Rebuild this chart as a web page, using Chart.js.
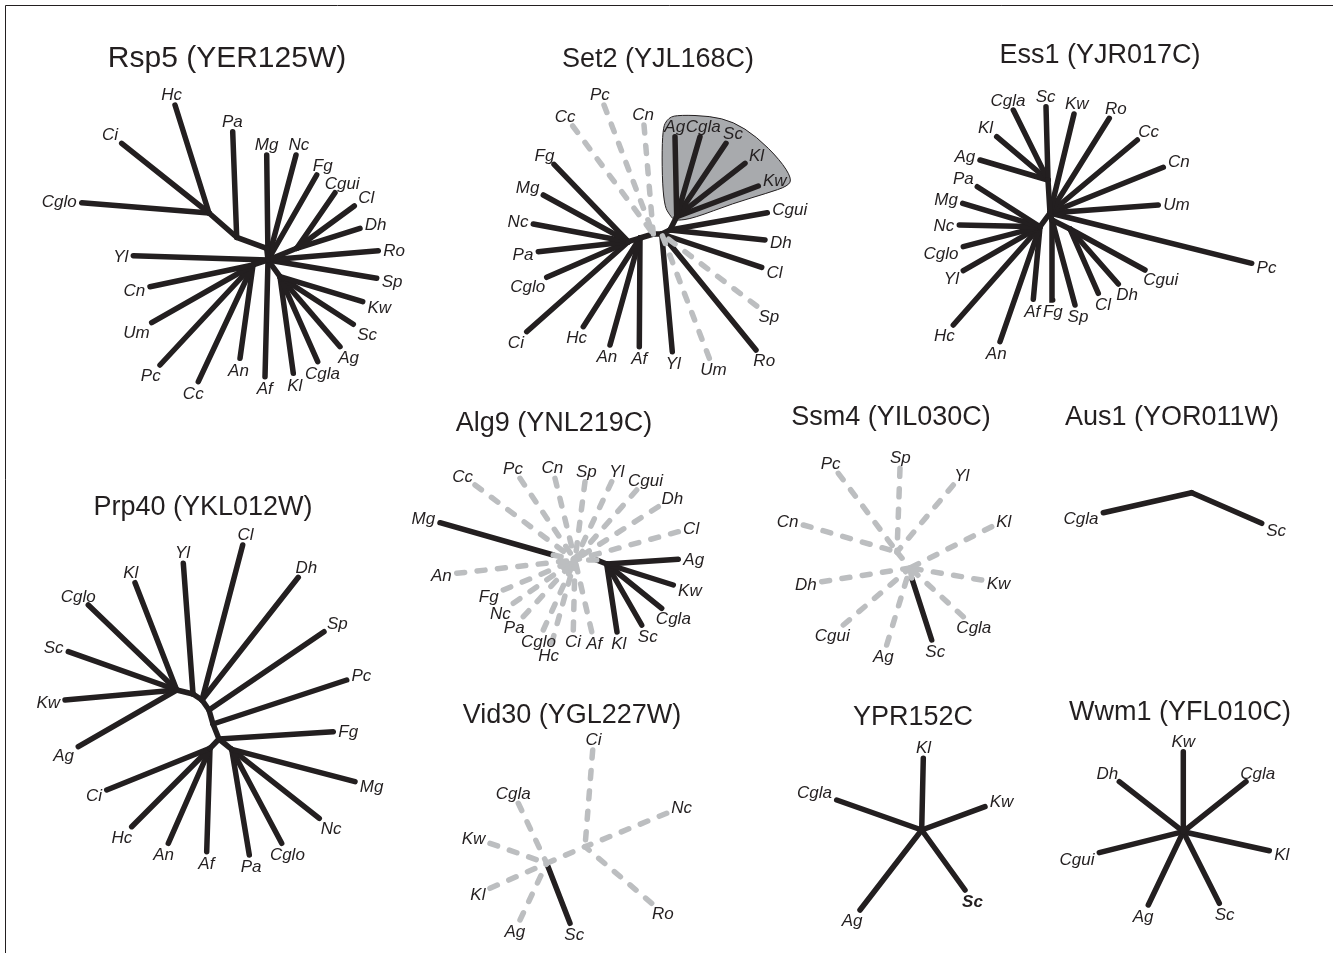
<!DOCTYPE html>
<html><head><meta charset="utf-8">
<script src="https://cdn.jsdelivr.net/npm/chart.js@4.4.1/dist/chart.umd.min.js"></script>
<style>html,body{margin:0;padding:0;background:#fff;overflow:hidden}</style>
</head><body>
<canvas id="c" width="1333" height="953" style="display:block;width:1333px;height:953px"></canvas>
<script>
// ---- DATA ----
// Tree titles
const treeTitles = ['Rsp5 (YER125W)','Set2 (YJL168C)','Ess1 (YJR017C)','Prp40 (YKL012W)','Alg9 (YNL219C)',
  'Ssm4 (YIL030C)','Aus1 (YOR011W)','Vid30 (YGL227W)','YPR152C','Wwm1 (YFL010C)'];
// Each tree: [node, parent, x, y, edge class]  ('k' = retained/solid, 'l' = lost/dashed)
// nodes starting with '_' are internal; '#n' suffix disambiguates duplicate leaf names
const rsp5 = [
  ['_c',null,268,260,'k'],['_n3','_c',266.7,248.3,'k'],['_n2','_n3',236.7,237.3,'k'],['_h1','_n2',209,213,'k'],
  ['_rt','_c',296.7,248.3,'k'],['_rb','_c',280,276.7,'k'],['_lb','_c',253,265,'k'],
  ['Hc','_h1',175,105,'k'],['Ci','_h1',121.7,143.3,'k'],['Cglo','_h1',81.7,202.7,'k'],['Pa','_n2',232.7,131.7,'k'],
  ['Mg','_c',266.7,155,'k'],['Nc','_c',296,155,'k'],['Fg','_c',316.7,175,'k'],
  ['Cgui','_rt',335,192.7,'k'],['Cl','_rt',354.3,206,'k'],['Dh','_rt',360,228.3,'k'],
  ['Ro','_c',378.3,250.7,'k'],['Sp','_c',376.7,278.3,'k'],
  ['Kw','_rb',362.7,301.7,'k'],['Sc','_rb',353.3,324.3,'k'],['Ag','_rb',340,346.7,'k'],['Cgla','_rb',317.7,361.7,'k'],['Kl','_rb',293.3,373.3,'k'],
  ['Yl','_c',133.3,255.7,'k'],['Cn','_lb',150,286.7,'k'],['Um','_lb',151.7,322.7,'k'],['Pc','_lb',160,365,'k'],
  ['Cc','_lb',198.3,381.7,'k'],['An','_lb',240,358.3,'k'],['Af','_c',265,376.7,'k']
];
const set2 = [
  ['_j3',null,653.3,234,'k'],['_j2','_j3',661.7,234,'k'],['_j1','_j2',670,230,'k'],['_cl','_j1',676.7,216.7,'k'],
  ['_j4','_j3',640,238,'k'],['_lh','_j4',628.3,241.7,'k'],
  ['Ag','_cl',675,136.7,'k'],['Cgla','_cl',700,136.7,'k'],['Sc','_cl',726,143.3,'k'],['Kl','_cl',745,163.3,'k'],['Kw','_cl',758.3,186,'k'],
  ['Cgui','_j1',767.3,212.7,'k'],['Dh','_j1',765,240,'k'],['Cl','_j2',761.7,267.3,'k'],['Ro','_j2',756,350,'k'],['Yl','_j2',672.3,351.7,'k'],
  ['Pc','_j3',604,105,'l'],['Cc','_j3',572.7,126,'l'],['Cn','_j3',644,125,'l'],['Sp','_j2',756.7,306,'l'],['Um','_j2',709.3,358.3,'l'],
  ['Fg','_lh',554,164.3,'k'],['Mg','_lh',543.3,195,'k'],['Nc','_lh',533.3,224,'k'],['Pa','_lh',538.3,251.7,'k'],
  ['Cglo','_lh',546.7,277.3,'k'],['Ci','_lh',526.7,331.7,'k'],
  ['Hc','_j4',583.3,326.7,'k'],['An','_j4',610,345,'k'],['Af','_j4',639.3,346.7,'k']
];
// outline of the highlighted Saccharomycetaceae clade in Set2
const set2CladeX = [671.7,662.7,661.7,668.3,680,710,733.3,756.7,780,791.7,788.3,766.7,733.3,693.3,676.7];
const set2CladeY = [218.3,203.3,130,117.3,115,116,121.7,136.7,160,178.3,186,193.3,203.3,218.3,220.7];
const ess1 = [
  ['_B',null,1050,213,'k'],['_up','_B',1048,180,'k'],['_low','_B',1040,226.7,'k'],['_m','_B',1052,220,'k'],['_r','_m',1070,229,'k'],
  ['Sc','_up',1046,106.7,'k'],['Cgla','_up',1013.3,110,'k'],['Kl','_up',996.7,136.7,'k'],['Ag','_up',980,160,'k'],
  ['Kw','_B',1074,114,'k'],['Ro','_B',1109.3,118.3,'k'],['Cc','_B',1137.3,140,'k'],['Cn','_B',1163.3,167.3,'k'],
  ['Um','_B',1158.3,205,'k'],['Pc','_B',1251.7,263.3,'k'],
  ['Pa','_low',977.3,186.7,'k'],['Mg','_low',962.7,203.3,'k'],['Nc','_low',959.3,225,'k'],['Cglo','_low',963.3,246.7,'k'],
  ['Yl','_low',963.3,270.7,'k'],['Hc','_low',953.3,325,'k'],['An','_low',1000,341.7,'k'],['Af','_low',1033.3,299.3,'k'],
  ['Fg','_m',1052.7,300,'k'],['Sp','_m',1075,305,'k'],
  ['Cl','_r',1098.3,293.3,'k'],['Dh','_r',1118.3,284,'k'],['Cgui','_r',1145,270,'k']
];
const prp40 = [
  ['_b5',null,219,739,'k'],['_b4','_b5',213,724,'k'],['_b3','_b4',209,710,'k'],['_b2','_b3',202,700,'k'],['_b1','_b2',193,694,'k'],
  ['_t','_b1',176.7,690,'k'],['_ll','_b5',210,748.3,'k'],['_lr','_b5',231.7,749.3,'k'],
  ['Cglo','_t',88.3,605,'k'],['Kl','_t',135,582.7,'k'],['Sc','_t',68.3,651.7,'k'],['Kw','_t',65,700,'k'],['Ag','_t',78.3,746.7,'k'],
  ['Yl','_b1',183.3,563.3,'k'],['Cl','_b2',242.7,545,'k'],['Dh','_b2',298.3,577.3,'k'],['Sp','_b3',324,631.7,'k'],
  ['Pc','_b4',346.7,680,'k'],['Fg','_b5',333.3,731.7,'k'],
  ['Mg','_lr',355,781.7,'k'],['Nc','_lr',319.3,818.3,'k'],['Cglo#2','_lr',281.7,843.3,'k'],['Pa','_lr',249.3,855,'k'],
  ['Ci','_ll',106.7,790,'k'],['Hc','_ll',131.7,826.7,'k'],['An','_ll',168.3,843.3,'k'],['Af','_ll',206.7,851.7,'k']
];
const alg9 = [
  ['_c',null,575,560,'l'],['_mg','_c',553.3,555,'l'],['_s2','_c',596.7,560,'l'],['_s','_s2',606.7,564,'k'],
  ['Mg','_mg',440,522.7,'k'],
  ['Ag','_s',678.3,559.3,'k'],['Kw','_s',673.3,585,'k'],['Cgla','_s',661.7,608.3,'k'],['Sc','_s',641.7,625,'k'],['Kl','_s',617,632,'k'],
  ['Cc','_c',475,485,'l'],['Pc','_c',520,478.3,'l'],['Cn','_c',555,478.3,'l'],['Sp','_c',585,481.7,'l'],['Yl','_c',611.7,481.7,'l'],
  ['Cgui','_c',636.7,490,'l'],['Dh','_c',658.3,506.7,'l'],['Cl','_c',678.3,531.7,'l'],['An','_c',456.7,573.3,'l'],
  ['Fg','_c',503.3,590,'l'],['Nc','_c',513.3,603.3,'l'],['Pa','_c',523.3,616.7,'l'],['Cglo','_c',543.3,630,'l'],
  ['Hc','_c',551.7,643.3,'l'],['Ci','_c',573.3,630,'l'],['Af','_c',591.7,631.7,'l']
];
const ssm4 = [
  ['_d',null,910,568,'l'],['_u','_d',897,552,'l'],['_sc','_d',911.7,578,'l'],
  ['Pc','_u',838.3,473.3,'l'],['Sp','_u',900,468.3,'l'],['Yl','_u',953.3,485,'l'],['Cn','_u',803.3,525,'l'],
  ['Dh','_d',821.7,581.7,'l'],['Cgui','_d',843.3,625,'l'],['Kl','_d',991.7,526.7,'l'],['Kw','_d',981.7,580,'l'],
  ['Cgla','_d',963.3,616.7,'l'],['Ag','_d',886.7,645,'l'],['Sc','_sc',931.7,640,'k']
];
const aus1 = [['_c',null,1191.7,492.7,'k'],['Cgla','_c',1103.3,512.7,'k'],['Sc','_c',1261.7,523.3,'k']];
const vid30 = [
  ['_r',null,585,846.7,'l'],['_l','_r',546.7,863.3,'l'],
  ['Ci','_r',592.7,750,'l'],['Nc','_r',666.7,813.3,'l'],['Ro','_r',651.7,903.3,'l'],
  ['Cgla','_l',518.3,803.3,'l'],['Kw','_l',490,843.3,'l'],['Kl','_l',490,888.3,'l'],['Ag','_l',520,920,'l'],['Sc','_l',570,923.3,'k']
];
const ypr152c = [
  ['_c',null,921.7,830,'k'],['Kl','_c',923.3,758.3,'k'],['Cgla','_c',836.7,800,'k'],['Kw','_c',985,806.7,'k'],
  ['Sc','_c',965,890,'k'],['Ag','_c',860,910,'k']
];
const wwm1 = [
  ['_c',null,1183.3,831.7,'k'],['Kw','_c',1183.3,751.7,'k'],['Cgla','_c',1246,781.7,'k'],['Dh','_c',1119.3,781.7,'k'],
  ['Cgui','_c',1099.3,852.7,'k'],['Kl','_c',1269.3,850.7,'k'],['Ag','_c',1148.3,905,'k'],['Sc','_c',1219.3,903.3,'k']
];
const trees = [rsp5,set2,ess1,prp40,alg9,ssm4,aus1,vid30,ypr152c,wwm1];

// ---- LAYOUT / STYLE ----
const titleLayout = [[227,67,30],[658,67,27],[1100,63,27],[203,515,27],[554,431,27],[891,425,27],[1172,425,27],[572,723,27],[913,725,27],[1180,720,27]];
const INK = '#231f20', GRAY = '#bcbec0', HULL = '#a8aaad';
const LABEL_FONT = 'italic 17px "Liberation Sans", Arial, sans-serif';
const boldLabel = {tree: 8, node: 'Sc'};

const datasets = [];
trees.forEach(t => {
  const map = {}; t.forEach(n => map[n[0]] = n);
  ['l','k'].forEach(cls => t.forEach(n => {
    if (!n[1] || n[4] !== cls) return;
    const p = map[n[1]];
    const solid = cls === 'k';
    datasets.push({
      // dashes start at the tip so they don't form rings at shared hubs
      data: [{x:n[2], y:n[3]}, {x:p[2], y:p[3]}],
      showLine: true, borderColor: solid ? INK : GRAY, backgroundColor: 'transparent',
      borderWidth: 5.5, borderDash: solid ? [] : [8, 12.5], borderCapStyle: 'round',
      pointRadius: 0, pointHoverRadius: 0, fill: false
    });
  }));
});

const deco = {
  id: 'deco',
  beforeDatasetsDraw(chart) {
    const {ctx, scales:{x, y}} = chart;
    ctx.save();
    // frame
    ctx.strokeStyle = INK; ctx.lineWidth = 1;
    ctx.beginPath(); ctx.moveTo(5.5, 960); ctx.lineTo(5.5, 5.5); ctx.lineTo(1340, 5.5); ctx.stroke();
    // clade hull (smooth closed curve through midpoints)
    const pts = set2CladeX.map((v, i) => [x.getPixelForValue(v), y.getPixelForValue(set2CladeY[i])]);
    const n = pts.length;
    const mid = i => { const a = pts[i % n], b = pts[(i + 1) % n]; return [(a[0] + b[0]) / 2, (a[1] + b[1]) / 2]; };
    ctx.beginPath();
    const m0 = mid(n - 1); ctx.moveTo(m0[0], m0[1]);
    for (let i = 0; i < n; i++) { const m = mid(i); ctx.quadraticCurveTo(pts[i][0], pts[i][1], m[0], m[1]); }
    ctx.closePath();
    ctx.fillStyle = HULL; ctx.fill();
    ctx.strokeStyle = INK; ctx.lineWidth = 1; ctx.stroke();
    ctx.restore();
  },
  afterDatasetsDraw(chart) {
    const {ctx, scales:{x, y}} = chart;
    ctx.save();
    ctx.fillStyle = INK;
    trees.forEach((t, ti) => {
      const map = {}; t.forEach(n => map[n[0]] = n);
      t.forEach(n => {
        if (n[0][0] === '_') return;
        const p = map[n[1]];
        const tx = x.getPixelForValue(n[2]), ty = y.getPixelForValue(n[3]);
        const px = x.getPixelForValue(p[2]), py = y.getPixelForValue(p[3]);
        let ux = tx - px, uy = ty - py; const L = Math.hypot(ux, uy) || 1; ux /= L; uy /= L;
        const text = n[0].split('#')[0];
        ctx.font = (ti === boldLabel.tree && text === boldLabel.node) ? 'italic bold 17px "Liberation Sans", Arial, sans-serif' : LABEL_FONT;
        const w = ctx.measureText(text).width, h = 12.5;
        const dx = Math.abs(ux) > 1e-6 ? (w / 2) / Math.abs(ux) : Infinity;
        const dy = Math.abs(uy) > 1e-6 ? (h / 2) / Math.abs(uy) : Infinity;
        const d = Math.min(dx, dy) + 5;
        ctx.textAlign = 'center'; ctx.textBaseline = 'alphabetic';
        ctx.fillText(text, tx + ux * d, ty + uy * d + h / 2);
      });
    });
    ctx.textAlign = 'center'; ctx.textBaseline = 'alphabetic';
    treeTitles.forEach((s, i) => {
      const [cx, by, fs] = titleLayout[i];
      ctx.font = fs + 'px "Liberation Sans", Arial, sans-serif';
      ctx.fillText(s, cx, by);
    });
    ctx.restore();
  }
};

new Chart(document.getElementById('c'), {
  type: 'scatter',
  data: { datasets },
  options: {
    responsive: false, animation: false, events: [],
    layout: { padding: 0 },
    plugins: { legend: { display: false }, tooltip: { enabled: false } },
    scales: {
      x: { type: 'linear', min: 0, max: 1333, display: false },
      y: { type: 'linear', min: 0, max: 953, reverse: true, display: false }
    }
  },
  plugins: [deco]
});
</script>
</body></html>
